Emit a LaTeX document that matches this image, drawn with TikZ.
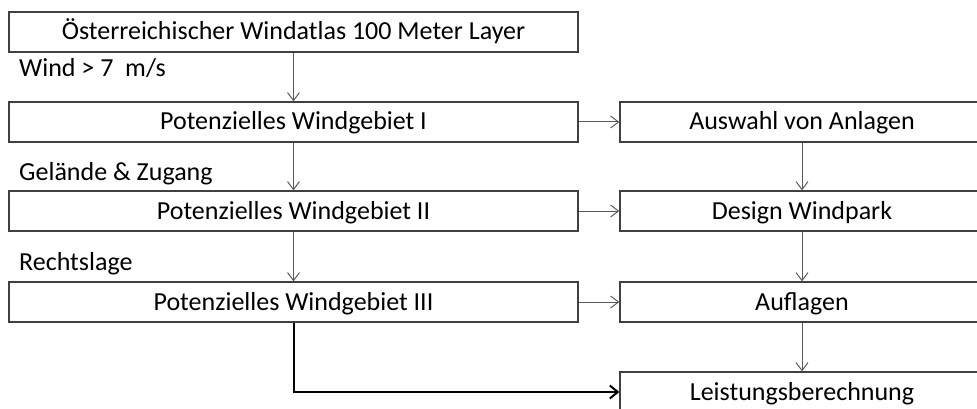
\documentclass[tikz,border=0pt]{standalone}
\usepackage{fontspec}
\setmainfont{Carlito}
\usetikzlibrary{arrows.meta}

\begin{document}
\begin{tikzpicture}[x=1pt,y=-1pt,
  box/.style={draw=black!75,line width=1.2pt,minimum height=40pt,inner sep=0pt,
    text height=17pt,text depth=1pt,font=\fontsize{26}{31}\selectfont},
  lbox/.style={box,minimum width=569pt},
  rbox/.style={box,minimum width=364pt},
  lbl/.style={anchor=base west,inner sep=0pt,font=\fontsize{26}{31}\selectfont},
  link/.style={draw=black!65,line width=1pt,-{Straight Barb[length=8pt,width=12pt]}},
  main/.style={draw=black,line width=2pt,-{Straight Barb[length=8pt,width=13pt]}}]
\clip (0,0) rectangle (977,409);

\node[lbox] (atlas) at (293.5,32) {Österreichischer Windatlas 100 Meter Layer};
\node[lbox] (g1) at (293.5,122) {Potenzielles Windgebiet I};
\node[lbox] (g2) at (293.5,211) {Potenzielles Windgebiet II};
\node[lbox] (g3) at (293.5,302) {Potenzielles Windgebiet III};

\node[rbox] (wahl) at (802,122) {Auswahl von Anlagen};
\node[rbox] (park) at (802,211) {Design Windpark};
\node[rbox] (aufl) at (802,302) {Auflagen};
\node[rbox] (leist) at (802,392) {Leistungsberechnung};

\node[lbl] (wind) at (19,77) {Wind > 7\ \ m/s};
\node[lbl] (gel) at (19,180) {Gelände \& Zugang};
\node[lbl] (recht) at (19,270) {Rechtslage};

\draw[link] (atlas) -- (g1);
\draw[link] (g1) -- (g2);
\draw[link] (g2) -- (g3);
\draw[link] (g1) -- (wahl);
\draw[link] (g2) -- (park);
\draw[link] (g3) -- (aufl);
\draw[link] (wahl) -- (park);
\draw[link] (park) -- (aufl);
\draw[link] (aufl) -- (leist);
\draw[main] (g3.south) |- (leist.west);

\end{tikzpicture}
\end{document}
